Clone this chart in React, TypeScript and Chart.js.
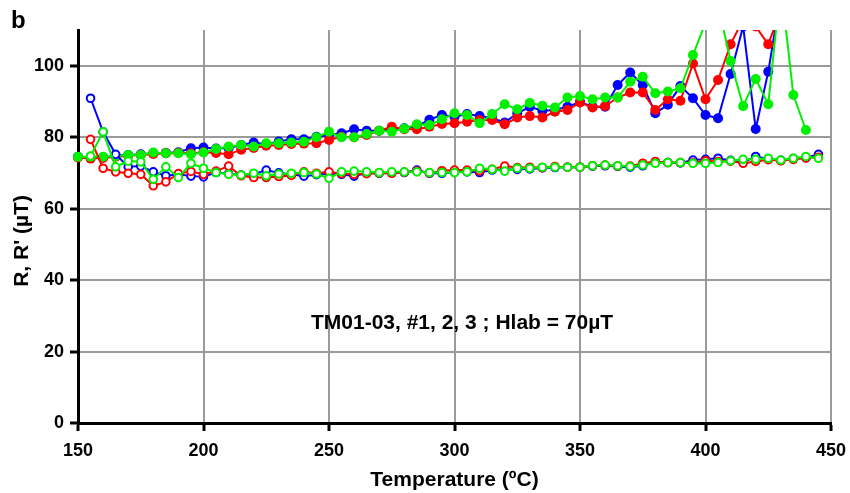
import React, { useEffect, useRef } from "react";
import { Chart, registerables } from "chart.js";
Chart.register(...registerables);

const temps = [150, 155, 160, 165, 170, 175, 180, 185, 190, 195, 200, 205, 210, 215, 220, 225, 230, 235, 240, 245, 250, 255, 260, 265, 270, 275, 280, 285, 290, 295, 300, 305, 310, 315, 320, 325, 330, 335, 340, 345, 350, 355, 360, 365, 370, 375, 380, 385, 390, 395, 400, 405, 410, 415, 420, 425, 430, 435, 440, 445];

const blueFull = [74.5, 74.3, 74.3, 74.8, 75.0, 75.2, 75.5, 75.6, 75.8, 76.9, 77.1, 76.8, 77.0, 77.8, 78.5, 78.0, 78.8, 79.4, 79.4, 80.1, 80.6, 81.1, 82.2, 81.8, 81.8, 82.3, 82.5, 83.0, 84.9, 86.2, 85.7, 86.5, 85.9, 85.3, 84.1, 86.7, 88.5, 87.4, 87.6, 88.5, 89.9, 88.5, 88.5, 94.6, 98.1, 94.6, 86.7, 89.1, 94.3, 90.9, 86.2, 85.3, 97.7, 111, 82.3, 98.3, 120, null, null, null];
const redFull = [74.3, 74.0, 74.2, 74.5, 74.8, 75.0, 75.3, 75.5, 75.6, 75.5, 75.8, 75.6, 75.2, 76.5, 77.0, 77.6, 77.8, 78.1, 78.2, 78.3, 79.2, 80.1, 80.0, 80.6, 81.8, 82.9, 82.2, 82.2, 82.9, 83.7, 83.9, 84.3, 84.8, 84.8, 83.6, 85.5, 85.9, 85.5, 87.1, 87.6, 89.7, 88.3, 88.7, 91.1, 92.5, 92.5, 87.6, 90.6, 90.2, 100.6, 90.6, 96.0, 106, 113, 111, 106, 115.5, null, null, null];
const greenFull = [74.5, 74.5, 74.5, 74.7, 75.0, 75.0, 75.7, 75.5, 75.5, 75.2, 75.7, 76.7, 77.4, 77.8, 77.4, 78.3, 78.3, 78.5, 78.7, 80.0, 81.5, 80.0, 80.0, 80.9, 81.8, 81.5, 82.4, 83.6, 83.4, 85.0, 86.7, 86.2, 83.9, 86.5, 89.2, 87.8, 89.6, 88.8, 88.3, 91.1, 91.5, 90.6, 91.1, 91.1, 95.5, 96.9, 92.3, 92.8, 93.7, 103, 112, 117, 101.3, 88.7, 96.3, 89.2, 123, 91.8, 82.0, null];

const blueOpen = [null, 90.9, 81.5, 75.2, 71.7, 71.9, 70.3, 69.2, 69.6, 69.1, 68.9, 70.1, 69.8, 69.4, 69.6, 70.8, 70.0, 69.6, 69.1, 69.5, 69.8, 69.6, 69.1, 70.0, 69.9, 70.0, 70.1, 70.8, 69.9, 69.9, 70.2, 70.3, 70.1, 70.8, 70.9, 71.0, 71.1, 71.4, 71.5, 71.6, 71.6, 71.9, 72.0, 71.8, 71.6, 72.0, 73.1, 72.9, 72.8, 73.6, 73.8, 74.1, 73.5, 73.0, 74.6, 73.9, 73.5, 74.0, 74.2, 75.2];
const redOpen = [null, 79.4, 71.3, 70.3, 69.9, 69.6, 66.4, 67.5, 69.8, 70.4, 69.6, 70.5, 71.9, 69.2, 68.7, 68.7, 69.0, 69.3, 70.3, 69.9, 70.3, 69.8, 69.6, 69.8, 70.0, 69.9, 70.2, 70.5, 70.0, 70.6, 70.8, 70.8, 70.6, 71.0, 71.9, 71.5, 71.6, 71.5, 71.8, 71.6, 71.6, 72.0, 72.2, 71.9, 71.9, 72.7, 73.2, 72.9, 72.9, 72.8, 73.4, 73.2, 73.3, 72.7, 73.2, 73.7, 73.4, 73.8, 74.2, 74.4];
const greenOpen = [null, 74.7, 81.5, 71.7, 73.3, 73.1, 68.2, 71.7, 68.7, 72.7, 71.3, 70.1, 69.6, 69.4, 69.9, 69.2, 69.7, 69.9, 70.1, 69.7, 68.5, 70.3, 70.5, 70.3, 70.1, 70.3, 70.3, 70.3, 70.1, 70.1, 70.1, 70.3, 71.3, 71.0, 70.5, 71.3, 71.3, 71.6, 71.6, 71.6, 71.6, 72.0, 72.2, 72.0, 71.8, 72.2, 72.7, 72.9, 72.9, 72.7, 72.7, 72.9, 73.4, 73.8, 73.8, 74.1, 73.6, 74.1, 74.6, 74.1];

const xTicks = [150, 200, 250, 300, 350, 400, 450];
const yTicks = [0, 20, 40, 60, 80, 100];

const BLUE = "#0000ff";
const RED = "#ff0000";
const GREEN = "#00f000";
const FONT = "'Liberation Sans', Arial, sans-serif";

const pts = (vals: (number | null)[]) => temps.map((t, i) => ({ x: t, y: vals[i] }));

const fullDs = (label: string, vals: (number | null)[], color: string) => ({
  label,
  data: pts(vals),
  borderColor: color,
  backgroundColor: color,
  borderWidth: 2,
  pointRadius: 5,
  pointBorderWidth: 0,
  pointBackgroundColor: color,
  pointBorderColor: color,
  tension: 0,
  clip: { left: 10, right: 10, top: 0, bottom: 10 },
});

const openDs = (label: string, vals: (number | null)[], color: string) => ({
  label,
  data: pts(vals),
  borderColor: color,
  backgroundColor: "#ffffff",
  borderWidth: 2,
  pointRadius: 3.8,
  pointBorderWidth: 2,
  pointBackgroundColor: "#ffffff",
  pointBorderColor: color,
  tension: 0,
  clip: { left: 10, right: 10, top: 0, bottom: 10 },
});

const textPlugin = {
  id: "texts",
  afterDraw(chart: any) {
    const ctx = chart.ctx;
    const xs = chart.scales.x;
    const ys = chart.scales.y;
    ctx.save();
    ctx.fillStyle = "#000";
    ctx.font = `bold 24px ${FONT}`;
    ctx.textAlign = "left";
    ctx.textBaseline = "alphabetic";
    ctx.fillText("b", 11, 28);

    ctx.font = `bold 21px ${FONT}`;
    ctx.textAlign = "center";
    ctx.textBaseline = "middle";
    ctx.fillText("TM01-03, #1, 2, 3 ; Hlab = 70µT", xs.getPixelForValue(303), ys.getPixelForValue(28));

    ctx.translate(22, 241);
    ctx.rotate(-Math.PI / 2);
    ctx.fillText("R, R' (µT)", 0, 0);
    ctx.restore();
  },
};

export default function App() {
  const ref = useRef<HTMLCanvasElement | null>(null);
  useEffect(() => {
    if (!ref.current) return;
    const chart = new Chart(ref.current, {
      type: "line",
      data: {
        datasets: [
          openDs("R' #3", greenOpen, GREEN),
          openDs("R' #2", redOpen, RED),
          openDs("R' #1", blueOpen, BLUE),
          fullDs("R #3", greenFull, GREEN),
          fullDs("R #2", redFull, RED),
          fullDs("R #1", blueFull, BLUE),
        ] as any,
      },
      options: {
        responsive: false,
        animation: false,
        layout: { padding: { top: 30, right: 19, left: 0, bottom: 0 } },
        plugins: { legend: { display: false }, tooltip: { enabled: false }, title: { display: false } },
        scales: {
          x: {
            type: "linear",
            min: xTicks[0],
            max: xTicks[xTicks.length - 1],
            afterBuildTicks: (s: any) => { s.ticks = xTicks.map((v) => ({ value: v })); },
            afterFit: (s: any) => { s.height = 70; s.paddingLeft = 0; s.paddingRight = 0; },
            ticks: { color: "#000", font: { family: FONT, size: 18, weight: "bold" }, padding: 9, maxRotation: 0 },
            grid: { color: "#9a9a9a", lineWidth: 2, tickColor: "#000", tickLength: 8, tickWidth: 3 },
            border: { color: "#000", width: 3 },
            title: {
              display: true,
              text: "Temperature (ºC)",
              color: "#000",
              font: { family: FONT, size: 21, weight: "bold", lineHeight: 1 },
              padding: { top: 0, bottom: 2 },
            },
          },
          y: {
            type: "linear",
            min: 0,
            max: 110,
            afterBuildTicks: (s: any) => { s.ticks = yTicks.map((v) => ({ value: v })); },
            afterFit: (s: any) => { s.width = 78; s.paddingTop = 0; s.paddingBottom = 0; },
            ticks: { color: "#000", font: { family: FONT, size: 18, weight: "bold" }, padding: 6 },
            grid: { color: "#9a9a9a", lineWidth: 2, tickColor: "#000", tickLength: 8, tickWidth: 3 },
            border: { color: "#000", width: 3 },
          },
        },
      } as any,
      plugins: [textPlugin],
    });
    return () => chart.destroy();
  }, []);
  return (
    <div style={{ position: "fixed", left: 0, top: 0, width: 850, height: 493, background: "#fff" }}>
      <canvas ref={ref} width={850} height={493} />
    </div>
  );
}
